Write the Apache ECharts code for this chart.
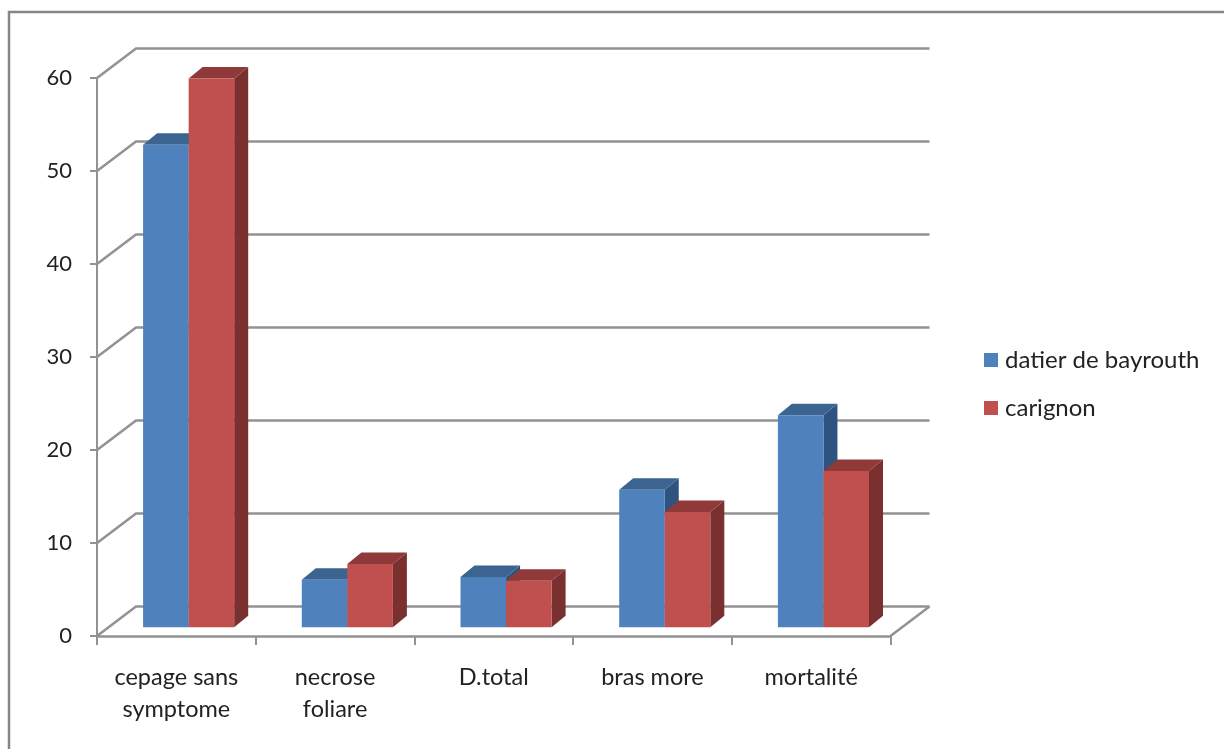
<!DOCTYPE html>
<html>
<head>
<meta charset="utf-8">
<style>html,body{margin:0;padding:0;background:#fff}#chart{width:1224px;height:749px}</style>
<script src="https://cdn.jsdelivr.net/npm/echarts@6/dist/echarts.min.js"></script>
</head>
<body>
<div id="chart"></div>
<script>
// Symptom frequency per grape variety
const categories = ['cepage sans\nsymptome', 'necrose\nfoliare', 'D.total', 'bras more', 'mortalité'];
const datierDeBayrouth = [51.9, 5.1, 5.4, 14.8, 22.8];
const carignon = [59, 6.8, 5, 12.4, 16.8];
const wallTicks = [0, 10, 20, 30, 40, 50, 60];

// Oblique projection of the chart box, in pixels
const WALL_DX = 39, WALL_DY = -29.5;   // front plane to back wall
const BAR_DX = 12.3, BAR_DY = -8.7;    // front plane to front of the bars
const DEPTH_DX = 14, DEPTH_DY = -11.5; // depth of a bar
const BAR_SHARE = 0.287;               // bar width as a share of the category band
const GRID_COLOR = '#929292';
const FONT = 'Lato';

function wallItem(params, api) {
  const cs = params.coordSys;
  const y = api.coord([0, api.value(0)])[1];
  const left = cs.x, right = cs.x + cs.width;
  const children = [{
    type: 'polyline',
    shape: { points: [[left, y], [left + WALL_DX, y + WALL_DY], [right + WALL_DX, y + WALL_DY]] },
    style: { stroke: GRID_COLOR, lineWidth: 2.5, fill: null }
  }];
  if (api.value(0) === 0) {
    // right-hand edge of the floor
    children.push({
      type: 'line',
      shape: { x1: right, y1: y, x2: right + WALL_DX, y2: y + WALL_DY },
      style: { stroke: GRID_COLOR, lineWidth: 2.5 }
    });
  }
  return { type: 'group', children };
}

function barRenderer(seriesIndex, front, top, side) {
  return function (params, api) {
    const idx = api.value(0);
    const band = api.size([1, 0])[0];
    const w = band * BAR_SHARE;
    const cx = api.coord([idx, 0])[0] + BAR_DX;
    const x0 = cx + (seriesIndex - 1) * w, x1 = x0 + w;
    const yBase = api.coord([idx, 0])[1] + BAR_DY;
    const yTop = api.coord([idx, api.value(1)])[1] + BAR_DY;
    return {
      type: 'group',
      children: [
        { type: 'polygon',
          shape: { points: [[x1, yTop], [x1 + DEPTH_DX, yTop + DEPTH_DY], [x1 + DEPTH_DX, yBase + DEPTH_DY], [x1, yBase]] },
          style: { fill: side } },
        { type: 'polygon',
          shape: { points: [[x0, yTop], [x0 + DEPTH_DX, yTop + DEPTH_DY], [x1 + DEPTH_DX, yTop + DEPTH_DY], [x1, yTop]] },
          style: { fill: top } },
        { type: 'rect',
          shape: { x: x0, y: yTop, width: w, height: yBase - yTop },
          style: { fill: front } }
      ]
    };
  };
}

const chart = echarts.init(document.getElementById('chart'), null, { renderer: 'canvas' });
chart.setOption({
  animation: false,
  backgroundColor: '#ffffff',
  textStyle: { fontFamily: FONT },
  graphic: [{
    type: 'rect', silent: true, z: -1,
    shape: { x: 9, y: 12, width: 1300, height: 800 },
    style: { fill: null, stroke: '#868686', lineWidth: 2.5 }
  }],
  grid: { left: 97, top: 78, width: 793.5, height: 558 },
  xAxis: {
    type: 'category',
    data: categories,
    axisLine: { lineStyle: { color: GRID_COLOR, width: 2.5 } },
    axisTick: { show: true, length: 9, lineStyle: { color: GRID_COLOR, width: 2 } },
    axisLabel: { color: '#222', fontSize: 23.5, fontFamily: FONT, lineHeight: 32, margin: 25, interval: 0 },
    splitLine: { show: false }
  },
  yAxis: {
    type: 'value', min: 0, max: 60, interval: 10,
    axisLine: { show: true, lineStyle: { color: GRID_COLOR, width: 2 } },
    axisTick: { show: true, length: 7, lineStyle: { color: GRID_COLOR, width: 2 } },
    axisLabel: { color: '#222', fontSize: 22, fontFamily: FONT, margin: 25 },
    splitLine: { show: false }
  },
  legend: {
    orient: 'vertical', left: 979, top: 343, itemWidth: 14, itemHeight: 14, itemGap: 24,
    icon: 'rect',
    textStyle: { color: '#222', fontSize: 24, fontFamily: FONT, padding: [0, 0, 0, 2] },
    data: ['datier de bayrouth', 'carignon']
  },
  series: [
    { type: 'custom', name: 'wall', silent: true, z: 1, clip: false,
      encode: { y: 0 }, renderItem: wallItem, data: wallTicks.map(v => [v]) },
    { type: 'custom', name: 'datier de bayrouth', z: 2, clip: false,
      itemStyle: { color: '#4F81BD' },
      encode: { x: 0, y: 1 },
      renderItem: barRenderer(0, '#4F81BD', '#3B6491', '#2F5380'),
      data: datierDeBayrouth.map((v, i) => [i, v]) },
    { type: 'custom', name: 'carignon', z: 3, clip: false,
      itemStyle: { color: '#C0504D' },
      encode: { x: 0, y: 1 },
      renderItem: barRenderer(1, '#C0504D', '#8F3A38', '#7A302E'),
      data: carignon.map((v, i) => [i, v]) }
  ]
});
</script>
</body>
</html>
